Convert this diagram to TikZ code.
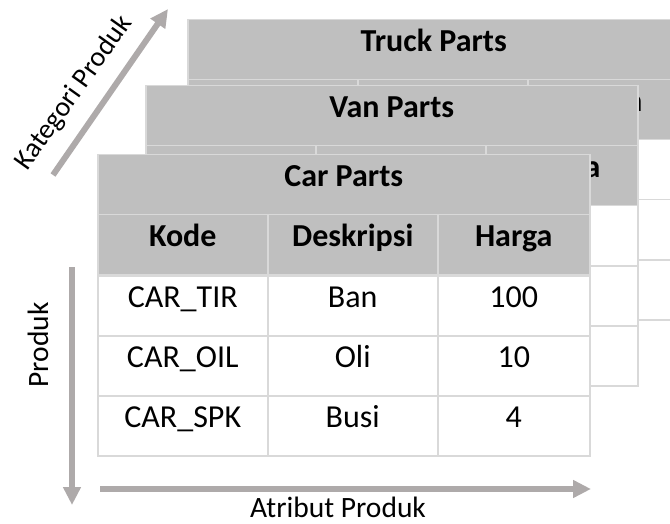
\documentclass[tikz,border=0pt]{standalone}
\usepackage{fontspec}
\setmainfont{Carlito}
\usetikzlibrary{arrows.meta}
\definecolor{hdrgray}{HTML}{BFBFBF}
\definecolor{gridgray}{HTML}{D9D9D9}
\definecolor{arrowgray}{HTML}{AEAAAA}
\tikzset{
  cellbox/.style={draw=gridgray, line width=1.5pt, fill=white, minimum height=60pt,
    inner xsep=0pt, inner ysep=0pt, text height=32pt, text depth=28pt,
    anchor=north west, font=\fontsize{32}{33}\selectfont},
  graycell/.style={cellbox, fill=hdrgray, font=\fontsize{32}{33}\selectfont\bfseries},
  colA/.style={minimum width=170pt},
  colB/.style={minimum width=170pt},
  colC/.style={minimum width=152pt},
  axisarrow/.style={draw=arrowgray, line width=6pt, -{Triangle[width=17pt,length=18pt]}},
  axislabel/.style={font=\fontsize{29.5}{30}\selectfont, text=black, inner sep=0pt},
}
\newcommand\parttable[4]{%
  \node[graycell, minimum width=492pt] (#1title) at (#2,#3) {#4};
  \node[graycell, colA] (#1kode) at (#2,#3+60) {Kode};
  \node[graycell, colB] (#1desk) at (#2+170,#3+60) {Deskripsi};
  \node[graycell, colC] (#1harga) at (#2+340,#3+60) {Harga};
}
\newcommand\partrow[6]{%
  \node[cellbox, colA] (#1a) at (#2,#3) {#4};
  \node[cellbox, colB] (#1b) at (#2+170,#3) {#5};
  \node[cellbox, colC] (#1c) at (#2+340,#3) {#6};
}
\begin{document}
\begin{tikzpicture}[x=1pt, y=-1pt]
  \useasboundingbox (0,0) rectangle (670,524);
  \clip (0,0) rectangle (670,524);
  % Truck table
  \parttable{truck}{187}{19}{Truck Parts}
  \partrow{truckrA}{187}{139}{}{}{}
  \partrow{truckrB}{187}{199}{}{}{}
  \partrow{truckrC}{187}{259}{}{}{}
  % Van table
  \parttable{van}{145}{85}{Van Parts}
  \partrow{vanrA}{145}{205}{}{}{}
  \partrow{vanrB}{145}{265}{}{}{}
  \partrow{vanrC}{145}{325}{}{}{}
  % Car table
  \parttable{car}{97}{154}{Car Parts}
  \partrow{carrA}{97}{275}{CAR\_TIR}{Ban}{100}
  \partrow{carrB}{97}{335}{CAR\_OIL}{Oli}{10}
  \partrow{carrC}{97}{395}{CAR\_SPK}{Busi}{4}
  % axes
  \coordinate (katA) at (53,175);
  \coordinate (katB) at (168,9);
  \coordinate (prodA) at (72,267);
  \coordinate (prodB) at (72,505);
  \coordinate (attrA) at (100,489);
  \coordinate (attrB) at (591,489);
  \draw[axisarrow] (katA) -- (katB);
  \draw[axisarrow] (prodA) -- (prodB);
  \draw[axisarrow] (attrA) -- (attrB);
  \node[axislabel, rotate=54.5, font=\fontsize{28}{29}\selectfont] (katlabel) at (74,93) {Kategori Produk};
  \node[axislabel, rotate=90] (prodlabel) at (38,345) {Produk};
  \node[axislabel] (attrlabel) at (338,507) {Atribut Produk};
\end{tikzpicture}
\end{document}
